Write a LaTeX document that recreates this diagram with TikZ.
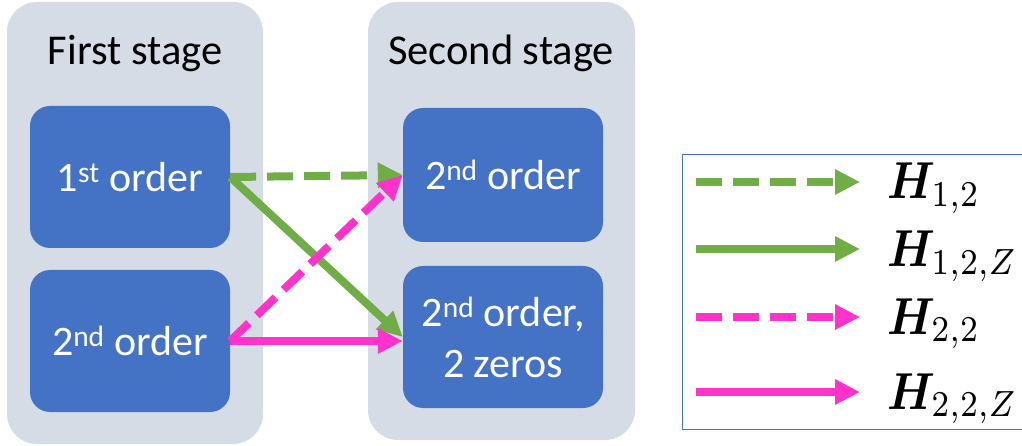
\documentclass[tikz,border=0pt]{standalone}
\usepackage{fontspec}
\setmainfont{Carlito}
\usepackage{bm}
\usetikzlibrary{arrows.meta}
\definecolor{panelgray}{HTML}{D6DCE5}
\definecolor{boxblue}{HTML}{4472C4}
\definecolor{arrgreen}{HTML}{70AD47}
\definecolor{arrpink}{HTML}{FF33CC}
\newcommand{\legmath}[1]{\scalebox{4.5}[5.2]{$#1$}}
\begin{document}
\begin{tikzpicture}[x=1pt,y=-1pt,
  panel/.style={fill=panelgray, rounded corners=30pt, inner sep=0pt, minimum width=256pt},
  block/.style={fill=boxblue, rounded corners=20pt, minimum width=200pt, inner sep=0pt,
    text=white, font=\fontsize{42}{51}\selectfont, align=center},
  title/.style={font=\fontsize{42.5}{50}\selectfont, anchor=base},
  conn/.style={line width=8pt, -{Triangle[length=25pt,width=24pt]}},
  dsh/.style={dash pattern=on 26pt off 11pt},
  legtext/.style={anchor=base west, inner sep=0pt}
]
\useasboundingbox (0,0) rectangle (1022,446);

% stage panels
\node[panel, minimum height=442pt] (p1) at (135,223) {};
\node[panel, minimum width=267pt, minimum height=438pt] (p2) at (501.5,221) {};
\node[title] (t1) at (135,65) {First stage};
\node[title] (t2) at (501,65) {Second stage};

% filter blocks
\node[block, minimum height=142pt] (a1) at (130,177) {1\textsuperscript{st} order};
\node[block, minimum height=142pt] (a2) at (130,341) {2\textsuperscript{nd} order};
\node[block, minimum height=134pt] (b1) at (503,175) {2\textsuperscript{nd} order};
\node[block, minimum height=142pt] (b2) at (503,337) {2\textsuperscript{nd} order,\\2 zeros};

% connections
\draw[conn, arrgreen, dsh] (a1.east) -- (b1.west);
\draw[conn, arrgreen] (a1.east) -- (b2.west);
\draw[conn, arrpink, dsh] (a2.east) -- (b1.west);
\draw[conn, arrpink] (a2.east) -- (a2.east -| b2.west);

% legend
\node[draw=boxblue, line width=1.2pt, minimum width=360pt, minimum height=275pt,
  anchor=north west, inner sep=0pt] (legend) at (682,154) {};
\coordinate (s1) at (696,182); \coordinate (e1) at (860,182);
\coordinate (s2) at (696,249); \coordinate (e2) at (860,249);
\coordinate (s3) at (696,317); \coordinate (e3) at (860,317);
\coordinate (s4) at (696,392); \coordinate (e4) at (860,392);
\draw[conn, arrgreen, dsh] (s1) -- (e1);
\draw[conn, arrgreen] (s2) -- (e2);
\draw[conn, arrpink, dsh] (s3) -- (e3);
\draw[conn, arrpink] (s4) -- (e4);
\node[legtext] (l1) at (887,199) {\legmath{\bm{H}_{1{,}2}}};
\node[legtext] (l2) at (887,267) {\legmath{\bm{H}_{1{,}2{,}Z}}};
\node[legtext] (l3) at (887,334) {\legmath{\bm{H}_{2{,}2}}};
\node[legtext] (l4) at (887,409) {\legmath{\bm{H}_{2{,}2{,}Z}}};
\end{tikzpicture}
\end{document}
